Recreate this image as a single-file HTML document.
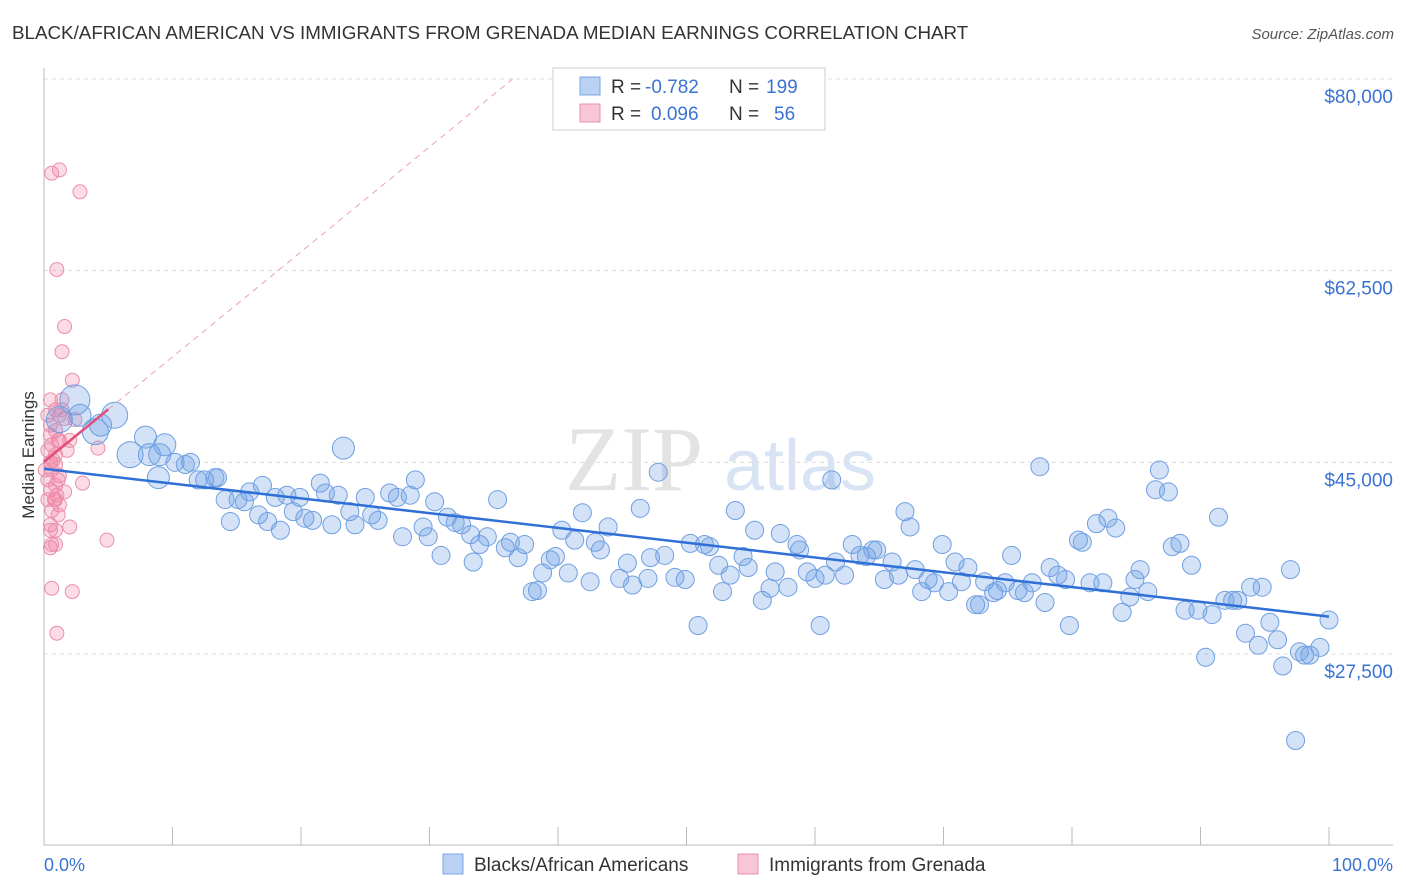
<!DOCTYPE html>
<html><head><meta charset="utf-8"><style>
body{margin:0;background:#fff;font-family:"Liberation Sans",sans-serif;}
svg{display:block}
</style></head><body>
<svg id="chart" width="1406" height="892">
<text x="12" y="39" font-size="18.8" fill="#333">BLACK/AFRICAN AMERICAN VS IMMIGRANTS FROM GRENADA MEDIAN EARNINGS CORRELATION CHART</text>
<text x="1394" y="39" font-size="15" fill="#555" text-anchor="end" font-style="italic">Source: ZipAtlas.com</text>
<text x="34" y="455" font-size="17" fill="#333" text-anchor="middle" transform="rotate(-90 34 455)">Median Earnings</text>
<g><text x="634" y="490" font-size="92" fill="#e3e3e3" text-anchor="middle" font-family="Liberation Serif,serif">ZIP</text><text x="800" y="490" font-size="72" fill="#d8e4f3" text-anchor="middle">atlas</text></g>
<g id="grid"></g><g id="pinkg"></g><g id="blueg"></g><g id="lines"></g>
<g>
<rect x="553" y="68" width="272" height="62" fill="#fff" stroke="#ccc"/>
<rect x="580" y="77" width="20" height="18" fill="#b9d1f3" stroke="#7aa6e6"/>
<rect x="580" y="104" width="20" height="18" fill="#f9c6d5" stroke="#eb92ad"/>
<text y="93" font-size="19" fill="#333"><tspan x="611">R =</tspan><tspan x="645" fill="#3a73d4">-0.782</tspan><tspan x="729">N =</tspan><tspan x="766" fill="#3a73d4">199</tspan></text>
<text y="120" font-size="19" fill="#333"><tspan x="611">R =</tspan><tspan x="651" fill="#3a73d4">0.096</tspan><tspan x="729">N =</tspan><tspan x="774" fill="#3a73d4">56</tspan></text>
</g>
<g>
<rect x="443" y="854" width="20" height="20" fill="#b9d1f3" stroke="#7aa6e6"/>
<text x="474" y="871" font-size="19" fill="#333">Blacks/African Americans</text>
<rect x="738" y="854" width="20" height="20" fill="#f9c6d5" stroke="#eb92ad"/>
<text x="769" y="871" font-size="19" fill="#333">Immigrants from Grenada</text>
</g>
<text x="44" y="871" font-size="18" fill="#3a73d4">0.0%</text>
<text x="1393" y="871" font-size="18" fill="#3a73d4" text-anchor="end">100.0%</text>
</svg>
<script>
const yTicks=[27500,45000,62500,80000];
const yTickLabels=["$27,500","$45,000","$62,500","$80,000"];
const blueX=[1.2,2.4,2.8,4.0,4.4,5.5,6.7,7.9,8.2,9.0,9.4,8.9,10.2,11.0,11.4,12.0,12.5,13.3,13.5,14.1,14.5,15.1,15.6,16.0,16.7,17.0,17.4,18.0,18.4,18.9,19.4,19.9,20.3,20.9,21.5,21.9,22.4,22.9,23.3,23.8,24.2,25.0,25.5,26.0,26.9,27.5,27.9,28.5,28.9,29.5,29.9,30.4,30.9,31.4,32.0,32.5,33.2,33.4,33.9,34.5,35.3,35.9,36.3,36.9,37.4,38.0,38.4,38.8,39.4,39.8,40.3,40.8,41.3,41.9,42.5,42.9,43.3,43.9,44.8,45.4,45.8,46.4,47.0,47.2,47.8,48.3,49.1,49.9,50.3,50.9,51.4,51.8,52.5,52.8,53.4,53.8,54.4,54.8,55.3,55.9,56.5,56.9,57.3,57.9,58.6,58.8,59.4,60.0,60.4,60.8,61.3,61.6,62.3,62.9,63.5,64.0,64.5,64.8,65.4,66.0,66.5,67.0,67.4,67.8,68.3,68.8,69.3,69.9,70.4,70.9,71.4,71.9,72.5,72.8,73.2,73.9,74.2,74.8,75.3,75.8,76.3,76.9,77.5,77.9,78.3,78.9,79.5,79.8,80.5,80.8,81.4,81.9,82.4,82.8,83.4,83.9,84.5,84.9,85.3,85.9,86.5,86.8,87.5,87.8,88.4,88.8,89.3,89.8,90.4,90.9,91.4,91.9,92.5,92.9,93.5,93.9,94.5,94.8,95.4,96.0,96.4,97.0,97.4,97.7,98.1,98.5,99.3,100.0];
const blueY=[48.9,50.7,49.3,47.8,48.4,49.3,45.7,47.3,45.7,45.7,46.6,43.6,45.0,44.8,45.0,43.4,43.4,43.6,43.6,41.6,39.6,41.6,41.4,42.3,40.2,42.9,39.6,41.8,38.8,42.0,40.5,41.8,39.9,39.7,43.1,42.2,39.3,42.0,46.3,40.5,39.3,41.8,40.2,39.7,42.2,41.8,38.2,42.0,43.4,39.1,38.2,41.4,36.5,40.0,39.5,39.3,38.4,35.9,37.5,38.2,41.6,37.2,37.7,36.3,37.5,33.2,33.3,34.9,36.1,36.4,38.8,34.9,37.9,40.4,34.1,37.7,37.0,39.1,34.4,35.8,33.8,40.8,34.4,36.3,44.1,36.5,34.5,34.3,37.6,30.1,37.5,37.3,35.6,33.2,34.7,40.6,36.4,35.4,38.8,32.4,33.5,35.0,38.5,33.6,37.5,37.0,35.0,34.4,30.1,34.7,43.4,35.9,34.7,37.5,36.5,36.4,37.0,37.0,34.3,35.9,34.7,40.5,39.1,35.2,33.2,34.3,34.0,37.5,33.2,35.9,34.1,35.4,32.0,32.0,34.1,33.1,33.3,34.0,36.5,33.3,33.1,34.0,44.6,32.2,35.4,34.7,34.3,30.1,37.9,37.7,34.0,39.4,34.0,39.9,39.0,31.3,32.7,34.3,35.2,33.2,42.5,44.3,42.3,37.3,37.6,31.5,35.6,31.5,27.2,31.1,40.0,32.4,32.4,32.4,29.4,33.6,28.3,33.6,30.4,28.8,26.4,35.2,19.6,27.7,27.4,27.4,28.1,30.6];
const blueWeight=[3,4,2,3,2,3,3,2,2,2,2,2,1,1,1,1,1,1,1,1,1,1,1,1,1,1,1,1,1,1,1,1,1,1,1,1,1,1,2];
const pinkX=[0.6,1.2,2.8,1.0,1.6,1.4,2.2,0.5,0.9,1.2,1.6,0.5,0.9,1.1,0.6,0.3,0.9,0.5,0.9,0.6,1.2,1.1,0.9,0.5,1.6,0.3,0.9,1.2,0.6,1.1,0.5,0.9,2.0,0.6,0.5,4.9,0.6,2.2,1.0,4.2,3.0,1.8,2.4,1.4,0.3,0.5,0.7,0.1,1.0,1.2,2.0,0.5,0.9,0.3,1.4,0.8];
const pinkY=[71.4,71.7,69.7,62.6,57.4,55.1,52.5,50.7,49.8,49.3,49.0,48.4,47.9,47.0,46.6,46.1,45.7,45.0,44.8,44.3,43.8,43.4,42.9,42.5,42.3,41.6,41.6,41.1,40.6,40.2,39.3,38.8,39.1,37.5,37.2,37.9,33.5,33.2,29.4,46.3,43.1,46.1,48.9,50.7,49.3,47.5,45.2,44.3,42.0,47.0,47.0,38.8,37.5,43.4,49.8,41.6];
const X0=44,X1=1329,TOP=72,BOT=845;
const xs=p=>X0+(X1-X0)*p/100;
const ys=v=>654-(v-27500)*(575/52500);
const NS="http://www.w3.org/2000/svg";
function mk(tag,attrs,parent){const e=document.createElementNS(NS,tag);for(const k in attrs)e.setAttribute(k,attrs[k]);parent.appendChild(e);return e;}
const grid=document.getElementById('grid');
yTicks.forEach((t,i)=>{
 const l=mk('line',{x1:X0,x2:1393,y1:ys(t),y2:ys(t),stroke:'#ddd','stroke-dasharray':'4,4'},grid);
 
 
 const tx=mk('text',{x:1393,y:ys(t)+24,'font-size':19,fill:'#3a73d4','text-anchor':'end'},grid);
 tx.textContent=yTickLabels[i];
 
 
});
const ax=mk('line',{x1:X0,x2:X0,y1:68,y2:BOT,stroke:'#bbb'},grid);


const bx=mk('line',{x1:X0,x2:1393,y1:BOT,y2:BOT,stroke:'#bbb'},grid);


for(let i=0;i<=10;i++){const tk=mk('line',{x1:xs(i*10),x2:xs(i*10),y1:BOT-18,y2:BOT,stroke:'#bbb'},grid);
 
 }
const pg=document.getElementById('pinkg');
pinkX.forEach((x,i)=>{const c=mk('circle',{cx:xs(x),cy:ys(pinkY[i]*1000),r:7,fill:'rgba(240,130,165,0.28)',stroke:'#eb8fab','stroke-width':1},pg);
 
 });
const bg=document.getElementById('blueg');
blueX.forEach((x,i)=>{const w=blueWeight[i]||1;const r=w==1?9:w==2?11:w==3?13:15;
 const c=mk('circle',{cx:xs(x),cy:ys(blueY[i]*1000),r:r,fill:'rgba(110,160,230,0.3)',stroke:'#6f9fe2','stroke-width':1},bg);
 
 });
function fit(X,Y){const n=X.length;let mx=0,my=0;X.forEach((x,i)=>{mx+=x;my+=Y[i];});mx/=n;my/=n;let sxy=0,sxx=0;X.forEach((x,i)=>{sxy+=(x-mx)*(Y[i]-my);sxx+=(x-mx)**2;});const b=sxy/sxx;return [my-b*mx,b];}
const lg=document.getElementById('lines');
const [ba,bb]=fit(blueX,blueY);
const bl=mk('line',{x1:xs(0),y1:ys(ba*1000),x2:xs(100),y2:ys((ba+bb*100)*1000),stroke:'#2f6fd6','stroke-width':2.5},lg);


const [pa,pb0]=fit(pinkX,pinkY);
const pb=pb0*1.35;
let xEnd=100; const yAtEnd=(pa+pb*100)*1000; if(ys(yAtEnd)<79){xEnd=((80000/1000)-pa)/pb;}
const pd=mk('line',{x1:xs(5),y1:ys((pa+pb*5)*1000),x2:xs(xEnd),y2:ys((pa+pb*xEnd)*1000),stroke:'#eaa0b8','stroke-width':1,'stroke-dasharray':'6,5'},lg);


const ps=mk('line',{x1:xs(0),y1:ys(pa*1000),x2:xs(5),y2:ys((pa+pb*5)*1000),stroke:'#e0507a','stroke-width':2.5},lg);


</script>
</body></html>
